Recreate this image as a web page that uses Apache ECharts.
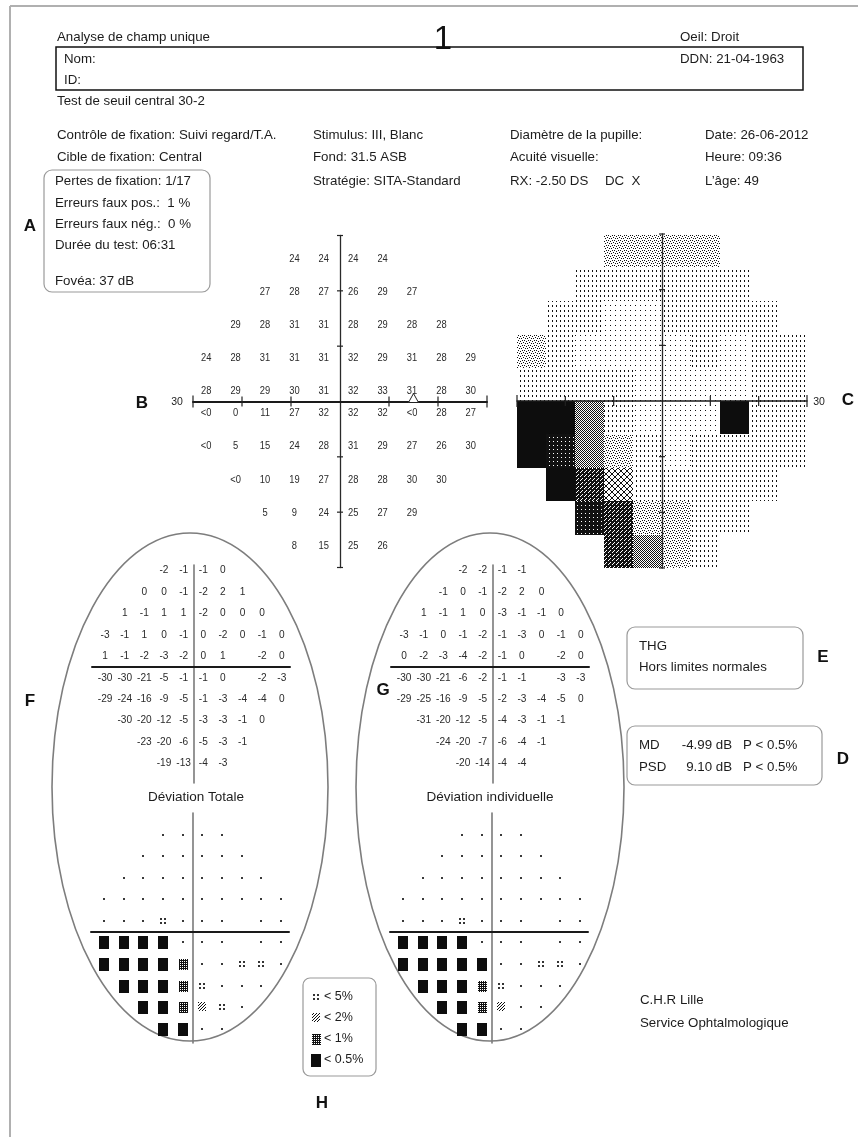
<!DOCTYPE html>
<html lang="fr">
<head>
<meta charset="utf-8">
<title>Analyse de champ unique</title>
<script src="https://cdn.jsdelivr.net/npm/echarts@6.0.0/dist/echarts.min.js"></script>
<style>
  html, body { margin: 0; padding: 0; background: #fff; }
  #chart { width: 858px; height: 1137px; }
</style>
</head>
<body>
<div id="chart"></div>
<script>
// 30-2 test grid: eccentricities of the columns and rows (degrees)
const colDeg = [-27, -21, -15, -9, -3, 3, 9, 15, 21, 27];
const rowDeg = [27, 21, 15, 9, 3, -3, -9, -15, -21, -27];

// Threshold sensitivities (dB); -1 is printed "<0"; null = no test point
const sensitivity = [
  [null, null, null, 24, 24, 24, 24, null, null, null],
  [null, null, 27, 28, 27, 26, 29, 27, null, null],
  [null, 29, 28, 31, 31, 28, 29, 28, 28, null],
  [24, 28, 31, 31, 31, 32, 29, 31, 28, 29],
  [28, 29, 29, 30, 31, 32, 33, 31, 28, 30],
  [-1, 0, 11, 27, 32, 32, 32, -1, 28, 27],
  [-1, 5, 15, 24, 28, 31, 29, 27, 26, 30],
  [null, -1, 10, 19, 27, 28, 28, 30, 30, null],
  [null, null, 5, 9, 24, 25, 27, 29, null, null],
  [null, null, null, 8, 15, 25, 26, null, null, null]
];

// Total deviation (dB); blind spot positions left empty
const totalDeviation = [
  [null, null, null, -2, -1, -1, 0, null, null, null],
  [null, null, 0, 0, -1, -2, 2, 1, null, null],
  [null, 1, -1, 1, 1, -2, 0, 0, 0, null],
  [-3, -1, 1, 0, -1, 0, -2, 0, -1, 0],
  [1, -1, -2, -3, -2, 0, 1, null, -2, 0],
  [-30, -30, -21, -5, -1, -1, 0, null, -2, -3],
  [-29, -24, -16, -9, -5, -1, -3, -4, -4, 0],
  [null, -30, -20, -12, -5, -3, -3, -1, 0, null],
  [null, null, -23, -20, -6, -5, -3, -1, null, null],
  [null, null, null, -19, -13, -4, -3, null, null, null]
];

// Pattern deviation (dB)
const patternDeviation = [
  [null, null, null, -2, -2, -1, -1, null, null, null],
  [null, null, -1, 0, -1, -2, 2, 0, null, null],
  [null, 1, -1, 1, 0, -3, -1, -1, 0, null],
  [-3, -1, 0, -1, -2, -1, -3, 0, -1, 0],
  [0, -2, -3, -4, -2, -1, 0, null, -2, 0],
  [-30, -30, -21, -6, -2, -1, -1, null, -3, -3],
  [-29, -25, -16, -9, -5, -2, -3, -4, -5, 0],
  [null, -31, -20, -12, -5, -4, -3, -1, -1, null],
  [null, null, -24, -20, -7, -6, -4, -1, null, null],
  [null, null, null, -20, -14, -4, -4, null, null, null]
];

// Probability classes: 0 normal, 1 P<5%, 2 P<2%, 3 P<1%, 4 P<0.5%
const totalDeviationProb = [
  [null, null, null, 0, 0, 0, 0, null, null, null],
  [null, null, 0, 0, 0, 0, 0, 0, null, null],
  [null, 0, 0, 0, 0, 0, 0, 0, 0, null],
  [0, 0, 0, 0, 0, 0, 0, 0, 0, 0],
  [0, 0, 0, 1, 0, 0, 0, null, 0, 0],
  [4, 4, 4, 4, 0, 0, 0, null, 0, 0],
  [4, 4, 4, 4, 3, 0, 0, 1, 1, 0],
  [null, 4, 4, 4, 3, 1, 0, 0, 0, null],
  [null, null, 4, 4, 3, 2, 1, 0, null, null],
  [null, null, null, 4, 4, 0, 0, null, null, null]
];
const patternDeviationProb = [
  [null, null, null, 0, 0, 0, 0, null, null, null],
  [null, null, 0, 0, 0, 0, 0, 0, null, null],
  [null, 0, 0, 0, 0, 0, 0, 0, 0, null],
  [0, 0, 0, 0, 0, 0, 0, 0, 0, 0],
  [0, 0, 0, 1, 0, 0, 0, null, 0, 0],
  [4, 4, 4, 4, 0, 0, 0, null, 0, 0],
  [4, 4, 4, 4, 4, 0, 0, 1, 1, 0],
  [null, 4, 4, 4, 3, 1, 0, 0, 0, null],
  [null, null, 4, 4, 3, 2, 0, 0, null, null],
  [null, null, null, 4, 4, 0, 0, null, null, null]
];

// Axis tick positions (degrees) and blind spot marker location
const axisTickDeg = [-30, -20, -10, 10, 20, 30];
const blindSpotMarker = [[15, 0]];

// Legend classes and global indices
const probLegend = [[1, '< 5%'], [2, '< 2%'], [3, '< 1%'], [4, '< 0.5%']];
const globalIndices = [['MD', '-4.99 dB', 'P < 0.5%'], ['PSD', '9.10 dB', 'P < 0.5%']];

const FONT = 'Liberation Sans';
const INK = '#1c1c1c';

// ---------- texture helpers ----------
function texture(w, h, pixels, bg) {
  const c = document.createElement('canvas');
  c.width = w; c.height = h;
  const g = c.getContext('2d');
  if (bg) { g.fillStyle = bg; g.fillRect(0, 0, w, h); }
  g.fillStyle = bg ? '#ffffff' : '#111111';
  pixels.forEach(function (p) { g.fillRect(p[0], p[1], 1, 1); });
  return { image: c, repeat: 'repeat' };
}
function crossPixels(n) {
  const out = [];
  for (let i = 0; i < n; i++) { out.push([i, i]); out.push([n - 1 - i, i]); }
  return out;
}
const greyLevels = [
  texture(5, 5, [[0, 0]]),                                        // >= 31 dB
  texture(4, 5, [[0, 0], [0, 1]]),                                // 26-30
  texture(6, 5, [[0, 0], [2, 0], [1, 2], [3, 3], [5, 3], [4, 1]]), // 21-25
  texture(6, 6, crossPixels(6)),                                  // 16-20
  texture(2, 2, [[0, 0], [1, 1]]),                                // 11-15
  texture(4, 4, [[0, 0], [2, 2], [1, 3]], '#111111'),             // 6-10
  texture(4, 4, [[1, 1]], '#111111'),                             // 1-5
  '#0d0d0d'                                                       // <= 0
];
function greyFill(v) {
  if (v >= 31) return greyLevels[0];
  if (v >= 26) return greyLevels[1];
  if (v >= 21) return greyLevels[2];
  if (v >= 16) return greyLevels[3];
  if (v >= 11) return greyLevels[4];
  if (v >= 6) return greyLevels[5];
  if (v >= 1) return greyLevels[6];
  return greyLevels[7];
}
const probTextures = {
  2: texture(3, 3, [[0, 0], [2, 1], [1, 2]]),
  3: texture(2, 2, [[0, 1]], '#111111')
};

function gridPoints(matrix) {
  const pts = [];
  matrix.forEach(function (row, r) {
    row.forEach(function (v, c) { if (v !== null) pts.push([colDeg[c], rowDeg[r], v]); });
  });
  return pts;
}

// one probability symbol centred on (cx, cy)
function probShapes(code, cx, cy) {
  cx = Math.round(cx); cy = Math.round(cy);
  if (code === 0) {
    return [{ type: 'rect', shape: { x: cx - 1, y: cy - 1, width: 2, height: 2 }, style: { fill: '#3a3a3a' } }];
  }
  if (code === 1) {
    return [[-3, -3], [1, -3], [-3, 1], [1, 1]].map(function (d) {
      return { type: 'rect', shape: { x: cx + d[0], y: cy + d[1], width: 2, height: 2 }, style: { fill: '#333' } };
    });
  }
  if (code === 2) {
    return [{ type: 'rect', shape: { x: cx - 4, y: cy - 5, width: 8, height: 9 }, style: { fill: probTextures[2] } }];
  }
  if (code === 3) {
    return [{ type: 'rect', shape: { x: cx - 4, y: cy - 5, width: 9, height: 11 }, style: { fill: probTextures[3] } }];
  }
  return [{ type: 'rect', shape: { x: cx - 5, y: cy - 6, width: 10, height: 13 }, style: { fill: '#0d0d0d' } }];
}

// ---------- series builders ----------
// values are printed beside their location, nudged toward the horizontal meridian
function numberSeries(gi, matrix, size, squeeze, fmt, nudge) {
  return {
    type: 'custom', xAxisIndex: gi, yAxisIndex: gi, z: 6, silent: true,
    data: gridPoints(matrix),
    renderItem: function (params, api) {
      const y = api.value(1);
      const p = api.coord([api.value(0), y]);
      const dy = nudge ? (y > 0 ? nudge[1] : nudge[2]) : 0;
      const dx = nudge ? nudge[0] : 0;
      return {
        type: 'text', x: p[0] + dx, y: p[1] + dy, scaleX: squeeze,
        style: { text: fmt(api.value(2)), fontFamily: FONT, fontSize: size, fill: '#2a2a2a', align: 'center', verticalAlign: 'middle' }
      };
    }
  };
}
function probSeries(gi, matrix) {
  return {
    type: 'custom', xAxisIndex: gi, yAxisIndex: gi, z: 6, silent: true,
    data: gridPoints(matrix),
    renderItem: function (params, api) {
      const p = api.coord([api.value(0), api.value(1)]);
      return { type: 'group', children: probShapes(api.value(2), p[0], p[1]) };
    }
  };
}
function tickSeries(gi, xHalf, yHalf, labelAt, labelDx) {
  const data = [];
  axisTickDeg.forEach(function (t) { data.push([t, 0]); data.push([t, 1]); });
  return {
    type: 'custom', xAxisIndex: gi, yAxisIndex: gi, z: 12, silent: true,
    data: data,
    renderItem: function (params, api) {
      const t = api.value(0), dir = api.value(1);
      if (dir === 0) {
        const p = api.coord([t, 0]);
        const h = Math.abs(t) === 30 ? xHalf + 1 : xHalf;
        const kids = [{ type: 'line', shape: { x1: p[0], y1: p[1] - h, x2: p[0], y2: p[1] + h }, style: { stroke: '#222', lineWidth: 1.2 } }];
        if (t === labelAt) {
          kids.push({ type: 'text', x: p[0] + labelDx, y: p[1] + 1,
            style: { text: String(Math.abs(t)), fontFamily: FONT, fontSize: 10.5, fill: INK, align: 'center', verticalAlign: 'middle' } });
        }
        return { type: 'group', children: kids };
      }
      const q = api.coord([0, t]);
      return { type: 'line', shape: { x1: q[0] - yHalf, y1: q[1], x2: q[0] + yHalf, y2: q[1] }, style: { stroke: '#222', lineWidth: 1.2 } };
    }
  };
}

// ---------- axes ----------
function axis(gi, min, max, line, z) {
  return {
    type: 'value', gridIndex: gi, min: min, max: max, z: z || 3,
    axisLine: line ? { show: true, onZero: true, lineStyle: line } : { show: false },
    axisTick: { show: false }, axisLabel: { show: false }, splitLine: { show: false }
  };
}
const darkH = { color: '#1a1a1a', width: 2 };
const darkV = { color: '#2a2a2a', width: 1.3 };
const greyV = { color: '#7a7a7a', width: 1.6 };

const grids = [
  { left: 193, top: 235.5, width: 294, height: 332 },   // 0 sensitivity
  { left: 517, top: 234, width: 290, height: 334 },     // 1 greyscale
  { left: 92, top: 565, width: 198, height: 218 },      // 2 total deviation values
  { left: 391, top: 565, width: 198, height: 218 },     // 3 pattern deviation values
  { left: 91, top: 813, width: 198, height: 230 },      // 4 total deviation probabilities
  { left: 390, top: 813, width: 198, height: 230 }      // 5 pattern deviation probabilities
];
const xAxes = [
  axis(0, -30, 30, darkH), axis(1, -30, 30, { color: '#1a1a1a', width: 1.5 }, 10),
  axis(2, -31, 29.5, darkH), axis(3, -31, 29.5, darkH), axis(4, -31, 29.5, darkH), axis(5, -31, 29.5, darkH)
];
const yAxes = [
  axis(0, -30, 30, darkV), axis(1, -30, 30, darkV, 10),
  axis(2, -32.5, 28.5, greyV), axis(3, -32.5, 28.5, greyV), axis(4, -31, 33, greyV), axis(5, -31, 33, greyV)
];

const series = [
  // greyscale tiles, one per test location
  {
    type: 'custom', xAxisIndex: 1, yAxisIndex: 1, z: 1, silent: true,
    data: gridPoints(sensitivity),
    renderItem: function (params, api) {
      const x = api.value(0), y = api.value(1);
      const a = api.coord([x - 3, y + 3]), b = api.coord([x + 3, y - 3]);
      const x0 = Math.round(a[0]), y0 = Math.round(a[1]);
      return { type: 'rect', shape: { x: x0, y: y0, width: Math.round(b[0]) - x0, height: Math.round(b[1]) - y0 },
        style: { fill: greyFill(api.value(2)) } };
    }
  },
  tickSeries(0, 5, 3, -30, -16),
  tickSeries(1, 5, 3, 30, 12),
  numberSeries(0, sensitivity, 11, 0.85, function (v) { return v < 0 ? '<0' : String(v); }, [-1.5, 6.5, -5]),
  {
    type: 'custom', xAxisIndex: 0, yAxisIndex: 0, z: 8, silent: true,
    data: blindSpotMarker,
    renderItem: function (params, api) {
      const p = api.coord([api.value(0), api.value(1)]);
      return { type: 'polygon', shape: { points: [[p[0] - 5, p[1] + 1], [p[0] + 5, p[1] + 1], [p[0], p[1] - 8]] },
        style: { fill: '#fff', stroke: '#222', lineWidth: 1 } };
    }
  },
  numberSeries(2, totalDeviation, 11, 0.92, String),
  numberSeries(3, patternDeviation, 11, 0.92, String),
  probSeries(4, totalDeviationProb),
  probSeries(5, patternDeviationProb)
];

// ---------- page text and frames ----------
function txt(x, y, text, extra) {
  return { type: 'text', x: x, y: y, z: 20, silent: true,
    style: Object.assign({ text: text, fontFamily: FONT, fontSize: 13.3, fill: INK, verticalAlign: 'middle' }, extra || {}) };
}
function letter(x, y, t) { return txt(x, y, t, { fontSize: 17, fontWeight: 'bold', fill: '#111', align: 'center' }); }
function box(x, y, w, h, r, stroke, lw) {
  return { type: 'rect', z: 15, silent: true, shape: { x: x, y: y, width: w, height: h, r: r },
    style: { fill: 'none', stroke: stroke, lineWidth: lw } };
}
function line(x1, y1, x2, y2, stroke, lw) {
  return { type: 'line', z: 15, silent: true, shape: { x1: x1, y1: y1, x2: x2, y2: y2 }, style: { stroke: stroke, lineWidth: lw } };
}

const graphic = [
  line(10, 6, 858, 6, '#b0b0b0', 2),
  line(10, 6, 10, 1137, '#b0b0b0', 2),

  txt(57, 37, 'Analyse de champ unique'),
  txt(443, 40, '1', { fontSize: 33, align: 'center', fill: '#111' }),
  txt(680, 37, 'Oeil: Droit'),
  box(56, 47, 747, 43, 0, '#111', 1.5),
  txt(64, 59, 'Nom:'),
  txt(680, 59, 'DDN: 21-04-1963'),
  txt(64, 80, 'ID:'),
  txt(57, 101, 'Test de seuil central 30-2'),

  txt(57, 135, 'Contrôle de fixation: Suivi regard/T.A.'),
  txt(313, 135, 'Stimulus: III, Blanc'),
  txt(510, 135, 'Diamètre de la pupille:'),
  txt(705, 135, 'Date: 26-06-2012'),
  txt(57, 157, 'Cible de fixation: Central'),
  txt(313, 157, 'Fond: 31.5 ASB'),
  txt(510, 157, 'Acuité visuelle:'),
  txt(705, 157, 'Heure: 09:36'),
  txt(55, 181, 'Pertes de fixation: 1/17'),
  txt(313, 181, 'Stratégie: SITA-Standard'),
  txt(510, 181, 'RX: -2.50 DS'),
  txt(605, 181, 'DC  X'),
  txt(705, 181, 'L\u2019âge: 49'),
  txt(55, 203, 'Erreurs faux pos.:  1 %'),
  txt(55, 224, 'Erreurs faux nég.:  0 %'),
  txt(55, 245, 'Durée du test: 06:31'),
  txt(55, 281, 'Fovéa: 37 dB'),
  box(44, 170, 166, 122, 8, '#9a9a9a', 1.2),

  letter(30, 226, 'A'),
  letter(142, 403, 'B'),
  letter(848, 400, 'C'),
  letter(30, 701, 'F'),
  letter(383, 690, 'G'),

  { type: 'ellipse', z: 4, silent: true, shape: { cx: 190, cy: 787, rx: 138, ry: 254 }, style: { fill: 'none', stroke: '#7d7d7d', lineWidth: 1.6 } },
  { type: 'ellipse', z: 4, silent: true, shape: { cx: 490, cy: 787, rx: 134, ry: 254 }, style: { fill: 'none', stroke: '#7d7d7d', lineWidth: 1.6 } },
  txt(196, 797, 'Déviation Totale', { fontSize: 13.5, align: 'center' }),
  txt(490, 797, 'Déviation individuelle', { fontSize: 13.5, align: 'center' }),

  box(627, 627, 176, 62, 8, '#9a9a9a', 1.2),
  txt(639, 646, 'THG'),
  txt(639, 667, 'Hors limites normales'),
  letter(823, 657, 'E'),

  box(627, 726, 195, 59, 8, '#9a9a9a', 1.2),
  letter(843, 759, 'D'),

  box(303, 978, 73, 98, 7, '#9a9a9a', 1.2),
  letter(322, 1103, 'H'),

  txt(640, 1000, 'C.H.R Lille'),
  txt(640, 1023, 'Service Ophtalmologique')
];

globalIndices.forEach(function (row, i) {
  const y = 745 + i * 22;
  graphic.push(txt(639, y, row[0]));
  graphic.push(txt(732, y, row[1], { align: 'right' }));
  graphic.push(txt(743, y, row[2]));
});
probLegend.forEach(function (item, i) {
  const y = 997 + i * 21;
  graphic.push({ type: 'group', z: 20, silent: true, children: probShapes(item[0], 316, y) });
  graphic.push(txt(324, y, item[1], { fontSize: 12.5 }));
});

const chart = echarts.init(document.getElementById('chart'), null, { renderer: 'canvas', width: 858, height: 1137, devicePixelRatio: 1 });
chart.setOption({
  animation: false,
  backgroundColor: '#ffffff',
  textStyle: { fontFamily: FONT },
  grid: grids,
  xAxis: xAxes,
  yAxis: yAxes,
  series: series,
  graphic: graphic
});
</script>
</body>
</html>
